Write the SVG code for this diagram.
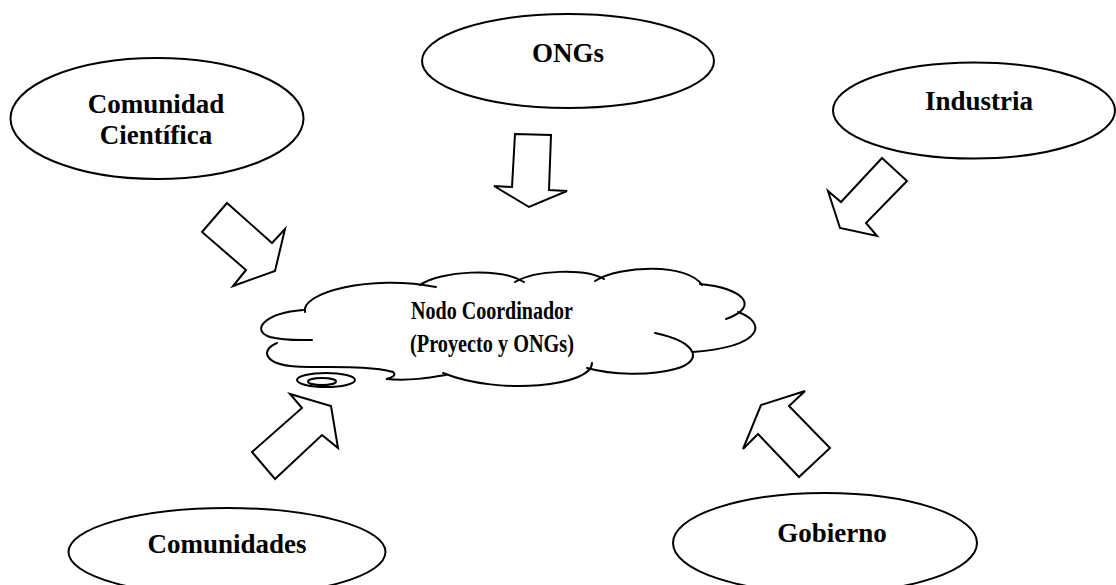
<svg xmlns="http://www.w3.org/2000/svg" width="1116" height="585" viewBox="0 0 1116 585">
<style>
.shape{fill:#fff;stroke:#000;stroke-width:2}
.line{fill:none;stroke:#000;stroke-width:2;stroke-linecap:round}
.arrow{fill:#fff;stroke:#000;stroke-width:2;stroke-linejoin:miter}
.lbl{font-family:"Liberation Serif","Times New Roman",serif;font-weight:bold;font-size:27px;fill:#000;text-anchor:middle}
.clbl{font-family:"Liberation Serif","Times New Roman",serif;font-weight:bold;font-size:25.5px;fill:#000;text-anchor:middle}
</style>
<rect width="1116" height="585" fill="#fff"/>
<g id="cientifica">
<ellipse class="shape" cx="157" cy="118.5" rx="146.5" ry="60.5"/>
<text class="lbl" x="156" y="113">Comunidad</text>
<text class="lbl" x="156" y="144">Científica</text>
</g>
<g id="ongs">
<ellipse class="shape" cx="568" cy="61" rx="146" ry="47"/>
<text class="lbl" x="568" y="62">ONGs</text>
</g>
<g id="industria">
<ellipse class="shape" cx="974" cy="110.5" rx="141" ry="48"/>
<text class="lbl" x="979" y="110">Industria</text>
</g>
<g id="comunidades">
<ellipse class="shape" cx="227" cy="552" rx="158.5" ry="44"/>
<text class="lbl" x="227" y="553">Comunidades</text>
</g>
<g id="gobierno">
<ellipse class="shape" cx="825" cy="543" rx="152" ry="50"/>
<text class="lbl" x="832" y="542">Gobierno</text>
</g>
<g id="nodo">
<path class="line" d="M305,312 C300,293 370,274 436,287"/>
<path class="line" d="M420,285 C440,271 500,267 524,282"/>
<path class="line" d="M515,282 C535,270 585,268 604,279"/>
<path class="line" d="M595,281 C620,265 688,263 702,285"/>
<path class="line" d="M700,284 C742,288 762,306 726,319"/>
<path class="line" d="M738,312 C766,322 766,346 693,352"/>
<path class="line" d="M655,333 C697,342 705,361 675,369 C650,376 612,375 587,368"/>
<path class="line" d="M592,363 C592,386 500,396 443,373"/>
<path class="line" d="M303,310 C265,313 250,330 270,337 C285,341 300,340 312,340"/>
<path class="line" d="M277,343 C260,350 265,363 290,366 C318,369 365,364 393,372 C397,375 392,378 386,379 C410,381 428,378 446,375"/>
<ellipse class="line" cx="326" cy="380" rx="29" ry="7"/>
<ellipse class="line" cx="322" cy="381.5" rx="14" ry="3.5"/>
<text class="clbl" x="492" y="319" textLength="162" lengthAdjust="spacingAndGlyphs">Nodo Coordinador</text>
<text class="clbl" x="492" y="352" textLength="164" lengthAdjust="spacingAndGlyphs">(Proyecto y ONGs)</text>
</g>
<g id="connectors">
<polygon class="arrow" points="227,203 272,243 285,229 275,271 233,286 246,270 202,232"/>
<polygon class="arrow" points="515,134 551,135 549,190 567,191 529,207 494,186 512,187"/>
<polygon class="arrow" points="882,158 907,181 866,223 877,236 840,228 828,191 841,202"/>
<polygon class="arrow" points="252,452 302,408 290,394 331,406 338,448 322,435 275,479"/>
<polygon class="arrow" points="805,391 789,406 830,448 799,477 758,434 743,449 761,405"/>
</g>
</svg>
